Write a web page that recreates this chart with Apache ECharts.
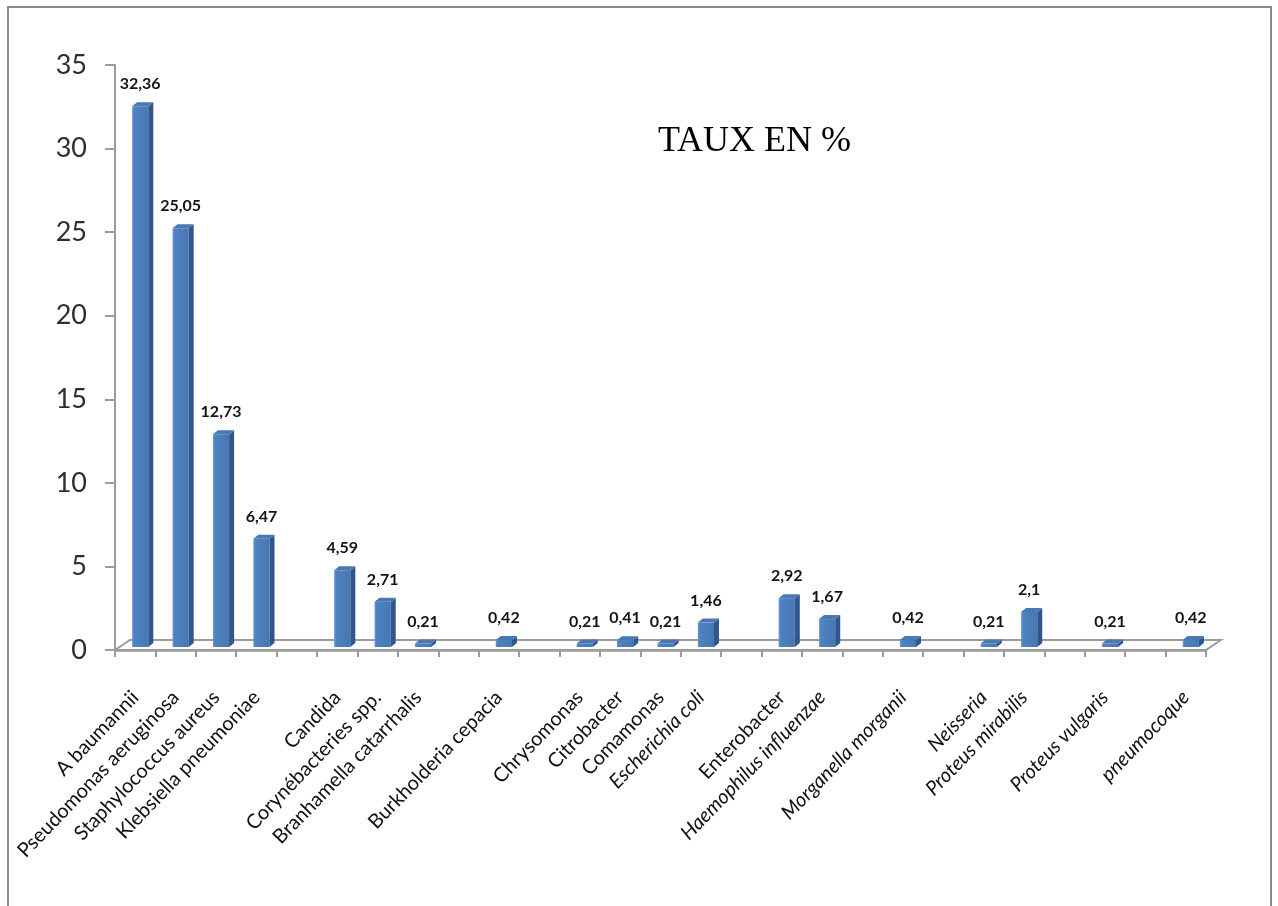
<!DOCTYPE html>
<html>
<head>
<meta charset="utf-8">
<script src="https://cdn.jsdelivr.net/npm/echarts@6/dist/echarts.min.js"></script>
<style>
  html, body { margin: 0; padding: 0; background: #ffffff; }
  #chart { width: 1278px; height: 906px; }
</style>
</head>
<body>
<div id="chart"></div>
<script>
// Germs (empty strings are spacer slots on the category axis)
const categories = [
  'A baumannii', 'Pseudomonas aeruginosa', 'Staphylococcus aureus', 'Klebsiella pneumoniae', '',
  'Candida', 'Corynébacteries spp.', 'Branhamella catarrhalis', '',
  'Burkholderia cepacia', '',
  'Chrysomonas', 'Citrobacter', 'Comamonas', 'Escherichia coli', '',
  'Enterobacter', 'Haemophilus influenzae', '',
  'Morganella morganii', '',
  'Neisseria', 'Proteus mirabilis', '',
  'Proteus vulgaris', '',
  'pneumocoque'
];

// Rate in %
const rates = [
  32.36, 25.05, 12.73, 6.47, null,
  4.59, 2.71, 0.21, null,
  0.42, null,
  0.21, 0.41, 0.21, 1.46, null,
  2.92, 1.67, null,
  0.42, null,
  0.21, 2.1, null,
  0.21, null,
  0.42
];

const yMin = 0, yMax = 35, yStep = 5;
const chartTitle = 'TAUX EN %';

// Names set in italic on the axis
const italicNames = new Set([
  'Escherichia coli', 'Haemophilus influenzae', 'Morganella morganii',
  'Neisseria', 'Proteus mirabilis', 'Proteus vulgaris', 'pneumocoque'
]);

// Pseudo-3D geometry: floor depth and bar depth (screen offsets)
const FLOOR_DX = 15, FLOOR_DY = -10;
const BAR_DX = 5, BAR_DY = -4;
const AXIS_GRAY = '#9c9c9c';

const fmt = v => String(v).replace('.', ',');

const axisData = categories.map(name =>
  italicNames.has(name) ? { value: name, textStyle: { fontStyle: 'italic' } } : name
);

const chart = echarts.init(document.getElementById('chart'), null, { renderer: 'canvas' });

function renderFloor(params, api) {
  const first = api.coord([0, 0]);
  const last = api.coord([categories.length - 1, 0]);
  const band = api.size([1, 0])[0];
  const xl = first[0] - band / 2;
  const xr = last[0] + band / 2;
  const y = first[1];
  return {
    type: 'polygon',
    shape: { points: [[xl, y], [xr, y], [xr + FLOOR_DX, y + FLOOR_DY], [xl + FLOOR_DX, y + FLOOR_DY]] },
    style: { fill: '#fcfcfc', stroke: AXIS_GRAY, lineWidth: 2 }
  };
}

function renderBar(params, api) {
  const idx = api.value(0);
  const v = api.value(1);
  if (v == null || isNaN(v)) return null;
  const base = api.coord([idx, 0]);
  const top = api.coord([idx, v]);
  const band = api.size([1, 0])[0];
  const w = band * 0.4;
  // bars stand in the middle of the floor depth
  const ox = FLOOR_DX / 2 - BAR_DX / 2;
  const oy = FLOOR_DY / 2 - BAR_DY / 2;
  const x0 = base[0] + ox - w / 2;
  const x1 = x0 + w;
  const yb = base[1] + oy;
  const yt = top[1] + oy;
  return {
    type: 'group',
    children: [
      {
        type: 'rect',
        shape: { x: x0, y: yt, width: w, height: yb - yt },
        style: {
          fill: new echarts.graphic.LinearGradient(0, 0, 1, 0, [
            { offset: 0, color: '#6d9bd6' },
            { offset: 0.12, color: '#4f82c0' },
            { offset: 1, color: '#4777b3' }
          ])
        }
      },
      {
        type: 'polygon',
        shape: { points: [[x1, yb], [x1 + BAR_DX, yb + BAR_DY], [x1 + BAR_DX, yt + BAR_DY], [x1, yt]] },
        style: { fill: '#30578a' }
      },
      {
        type: 'polygon',
        shape: { points: [[x0, yt], [x1, yt], [x1 + BAR_DX, yt + BAR_DY], [x0 + BAR_DX, yt + BAR_DY]] },
        style: { fill: '#4a78b2' }
      },
      {
        type: 'text',
        style: {
          x: x0 + w / 2,
          y: yt - 14,
          text: fmt(v),
          align: 'center',
          verticalAlign: 'bottom',
          fontFamily: 'Lato',
          fontWeight: 'bold',
          fontSize: 16,
          fill: '#141414'
        }
      }
    ]
  };
}

const option = {
  animation: false,
  backgroundColor: '#ffffff',
  title: {
    text: chartTitle,
    left: 653,
    top: 119,
    textStyle: { fontFamily: 'Liberation Serif', fontSize: 36, fontWeight: 'normal', color: '#000000' }
  },
  grid: { left: 115, right: 72, top: 65, bottom: 256, containLabel: false, outerBoundsMode: 'none' },
  xAxis: {
    type: 'category',
    data: axisData,
    boundaryGap: true,
    axisLine: { show: true, lineStyle: { color: AXIS_GRAY, width: 2.5 } },
    axisTick: { show: true, interval: 0, alignWithLabel: false, length: 7, lineStyle: { color: AXIS_GRAY, width: 2 } },
    axisLabel: {
      interval: 0,
      rotate: 46,
      margin: 44,
      fontFamily: 'Lato',
      fontSize: 20,
      color: '#111111'
    },
    splitLine: { show: false }
  },
  yAxis: {
    type: 'value',
    min: yMin,
    max: yMax,
    interval: yStep,
    axisLine: { show: true, lineStyle: { color: AXIS_GRAY, width: 2 } },
    axisTick: { show: true, length: 10, lineStyle: { color: AXIS_GRAY, width: 2 } },
    axisLabel: { margin: 28, fontFamily: 'Lato', fontSize: 27, color: '#2e2e2e' },
    splitLine: { show: false }
  },
  graphic: [
    {
      type: 'rect',
      silent: true,
      shape: { x: 8, y: 7, width: 1263, height: 940 },
      style: { fill: 'none', stroke: '#8a8a8a', lineWidth: 2 }
    }
  ],
  series: [
    {
      type: 'custom',
      name: 'floor',
      z: 1,
      silent: true,
      data: [[0, 0]],
      encode: { x: 0, y: 1 },
      renderItem: renderFloor
    },
    {
      type: 'custom',
      name: 'Taux',
      z: 3,
      data: rates.map((v, i) => [i, v]).filter(d => d[1] != null),
      encode: { x: 0, y: 1 },
      renderItem: renderBar
    }
  ]
};

chart.setOption(option);
</script>
</body>
</html>
